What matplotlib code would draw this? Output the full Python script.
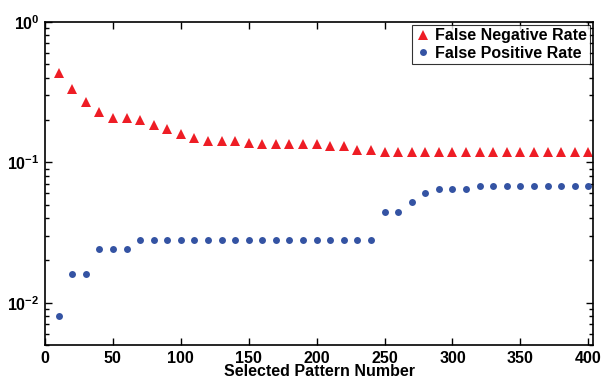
"""
False negative / false positive rate vs. number of selected patterns.
"""

import matplotlib
matplotlib.use("Agg")
import matplotlib.pyplot as plt
from matplotlib.ticker import FixedLocator, FixedFormatter, LogLocator, NullFormatter

# ---------------------------------------------------------------------
# Data
# ---------------------------------------------------------------------

PATTERN_NUMBER = [10, 20, 30, 40, 50, 60, 70, 80, 90, 100,
                  110, 120, 130, 140, 150, 160, 170, 180, 190, 200,
                  210, 220, 230, 240, 250, 260, 270, 280, 290, 300,
                  310, 320, 330, 340, 350, 360, 370, 380, 390, 400]

FALSE_NEGATIVE = [0.433, 0.333, 0.268, 0.228, 0.206, 0.205, 0.199, 0.183, 0.171, 0.158,
                  0.149, 0.142, 0.142, 0.142, 0.138, 0.134, 0.134, 0.134, 0.134, 0.135,
                  0.130, 0.130, 0.122, 0.122, 0.118, 0.118, 0.118, 0.118, 0.118, 0.118,
                  0.118, 0.118, 0.118, 0.118, 0.118, 0.118, 0.118, 0.118, 0.118, 0.118]

FALSE_POSITIVE = [0.008, 0.016, 0.016, 0.024, 0.024, 0.024, 0.028, 0.028, 0.028, 0.028,
                  0.028, 0.028, 0.028, 0.028, 0.028, 0.028, 0.028, 0.028, 0.028, 0.028,
                  0.028, 0.028, 0.028, 0.028, 0.044, 0.044, 0.052, 0.060, 0.064, 0.064,
                  0.064, 0.068, 0.068, 0.068, 0.068, 0.068, 0.068, 0.068, 0.068, 0.068]

X_TICKS = [0, 50, 100, 150, 200, 250, 300, 350, 400]
Y_TICKS = [0.01, 0.1, 1.0]
Y_TICK_LABELS = [r"$\mathbf{10^{-2}}$", r"$\mathbf{10^{-1}}$", r"$\mathbf{10^{0}}$"]

RED = "#EE1D25"
BLUE = "#3453A3"

# ---------------------------------------------------------------------
# Plot
# ---------------------------------------------------------------------

plt.rcParams["font.family"] = ["Liberation Sans", "DejaVu Sans"]
plt.rcParams["font.weight"] = "bold"
plt.rcParams["mathtext.fontset"] = "custom"
plt.rcParams["mathtext.bf"] = "Liberation Sans:bold"
plt.rcParams["mathtext.rm"] = "Liberation Sans:bold"

fig = plt.figure(figsize=(6.02, 3.79), dpi=100)
ax = fig.add_axes([0.0748, 0.0897, 0.9103, 0.853])

ax.plot(PATTERN_NUMBER, FALSE_NEGATIVE, linestyle="none", marker="^",
        markersize=6.5, color=RED, markeredgewidth=0, label="False Negative Rate")
ax.plot(PATTERN_NUMBER, FALSE_POSITIVE, linestyle="none", marker="o",
        markersize=5, color=BLUE, markeredgewidth=0, label="False Positive Rate")

ax.set_yscale("log")
ax.set_xlim(0, 403.5)
ax.set_ylim(0.005, 1.0)

ax.xaxis.set_major_locator(FixedLocator(X_TICKS))
ax.yaxis.set_major_locator(FixedLocator(Y_TICKS))
ax.yaxis.set_major_formatter(FixedFormatter(Y_TICK_LABELS))
ax.yaxis.set_minor_locator(LogLocator(base=10, subs=range(2, 10)))
ax.yaxis.set_minor_formatter(NullFormatter())

ax.tick_params(which="both", direction="in", top=True, right=True,
               labelsize=11.5, width=1.0)
ax.tick_params(which="major", length=5, pad=4)
ax.tick_params(which="minor", length=3)
for lbl in ax.get_xticklabels():
    lbl.set_fontweight("bold")

for spine in ax.spines.values():
    spine.set_linewidth(1.2)

ax.set_xlabel("Selected Pattern Number", fontsize=11.5, fontweight="bold", labelpad=-1)

leg = ax.legend(loc="upper right", fontsize=11.5, frameon=True, fancybox=False,
                edgecolor="black", handlelength=0.9, handletextpad=0.3,
                borderpad=0.2, labelspacing=0.15, borderaxespad=0.2)
leg.get_frame().set_linewidth(0.8)

fig.savefig("out.png", dpi=100)
